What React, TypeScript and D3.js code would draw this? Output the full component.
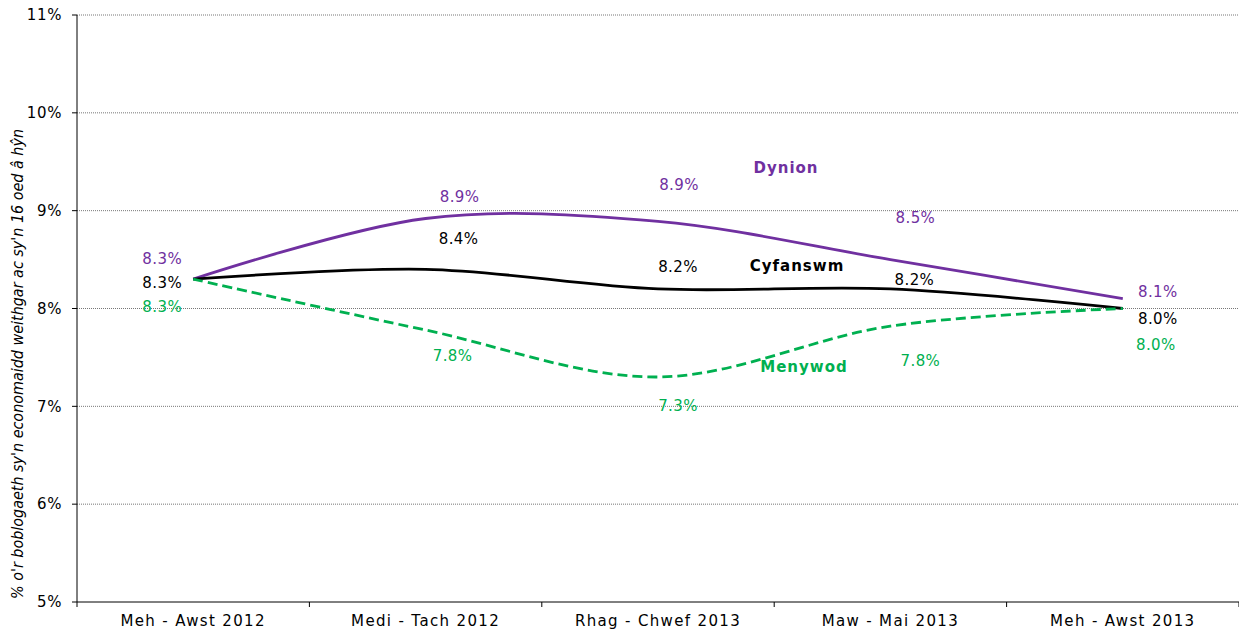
import React from "react";
import * as d3 from "d3";

const categories = ["Meh - Awst 2012", "Medi - Tach 2012", "Rhag - Chwef 2013", "Maw - Mai 2013", "Meh - Awst 2013"];
const totalValues = [8.3, 8.4, 8.2, 8.2, 8.0];
const menValues = [8.3, 8.92, 8.89, 8.5, 8.1];
const womenValues = [8.3, 7.78, 7.3, 7.82, 8.0];
const totalLabels = ["8.3%", "8.4%", "8.2%", "8.2%", "8.0%"];
const menLabels = ["8.3%", "8.9%", "8.9%", "8.5%", "8.1%"];
const womenLabels = ["8.3%", "7.8%", "7.3%", "7.8%", "8.0%"];
const yTicks = [5, 6, 7, 8, 9, 10, 11];
const yTitle = "% o'r boblogaeth sy'n economaidd weithgar ac sy'n 16 oed â hŷn";

// label offsets (layout only)
const menOffsets = [[-31, -20], [34, -22], [21, -37], [25, -42], [35, -7]];
const totalOffsets = [[-31, 4], [33, -31], [20, -22], [24, -9], [35, 10]];
const womenOffsets = [[-31, 28], [27, 26], [20, 29], [30, 35], [33, 36]];

const W = 1239, H = 632;
const left = 77, right = 1239, top = 15, bottom = 602;
const font = "'DejaVu Sans', Verdana, sans-serif";

export default function App() {
  const x = d3.scaleBand<string>().domain(categories).range([left, right]);
  const cx = (i: number) => (x(categories[i]) as number) + x.bandwidth() / 2;
  const y = d3.scaleLinear().domain([5, 11]).range([bottom, top]);
  const line = d3.line<number>().x((_, i) => cx(i)).y((d) => y(d)).curve(d3.curveCatmullRom.alpha(0));

  const series = [
    { vals: menValues, labels: menLabels, off: menOffsets, color: "#7030A0", dash: undefined },
    { vals: totalValues, labels: totalLabels, off: totalOffsets, color: "#000000", dash: undefined },
    { vals: womenValues, labels: womenLabels, off: womenOffsets, color: "#00B050", dash: "10 5" },
  ];

  const bounds = categories.map((c) => x(c) as number).concat([right]);

  return (
    <svg width={W} height={H} style={{ position: "absolute", left: 0, top: 0, background: "#fff" }} fontFamily={font}>
      {yTicks.filter((t) => t > 5).map((t) => (
        <line key={t} x1={left} x2={right} y1={y(t)} y2={y(t)} stroke="#777" strokeWidth={1} strokeDasharray="1 1" />
      ))}
      <line x1={left} x2={left} y1={top} y2={bottom} stroke="#000" strokeWidth={1} />
      <line x1={left} x2={right} y1={bottom} y2={bottom} stroke="#000" strokeWidth={1} />
      {yTicks.map((t) => (
        <g key={t}>
          <line x1={left - 5} x2={left} y1={y(t)} y2={y(t)} stroke="#000" />
          <text x={62} y={y(t)} dy="0.35em" textAnchor="end" fontSize={15} fill="#000" letterSpacing={0.6}>{t}%</text>
        </g>
      ))}
      {bounds.map((b, i) => (
        <line key={i} x1={b} x2={b} y1={bottom} y2={bottom + 5} stroke="#000" />
      ))}
      {categories.map((c, i) => (
        <text key={c} x={cx(i)} y={626} textAnchor="middle" fontSize={15} fill="#000" letterSpacing={1.35}>{c}</text>
      ))}
      <text
        transform={`translate(23, ${(bottom + 130) / 2 - 2}) rotate(-90)`}
        textAnchor="middle"
        fontSize={15}
        fontStyle="italic"
        fill="#000"
        textLength={470}
        lengthAdjust="spacingAndGlyphs"
      >
        {yTitle}
      </text>
      {series.map((s, k) => (
        <path key={k} d={line(s.vals) as string} fill="none" stroke={s.color} strokeWidth={2.8} strokeDasharray={s.dash} />
      ))}
      {series.map((s, k) =>
        s.labels.map((l, i) => (
          <text key={`${k}-${i}`} x={cx(i) + s.off[i][0]} y={y(s.vals[i]) + s.off[i][1]} dy="0.35em" textAnchor="middle" fontSize={15} fill={s.color} letterSpacing={0.4}>
            {l}
          </text>
        ))
      )}
      <text x={786} y={168} dy="0.35em" textAnchor="middle" fontSize={15} fontWeight="bold" fill="#7030A0" letterSpacing={1}>Dynion</text>
      <text x={797} y={266} dy="0.35em" textAnchor="middle" fontSize={15} fontWeight="bold" fill="#000" letterSpacing={1}>Cyfanswm</text>
      <text x={804} y={367} dy="0.35em" textAnchor="middle" fontSize={15} fontWeight="bold" fill="#00B050" letterSpacing={1}>Menywod</text>
    </svg>
  );
}
